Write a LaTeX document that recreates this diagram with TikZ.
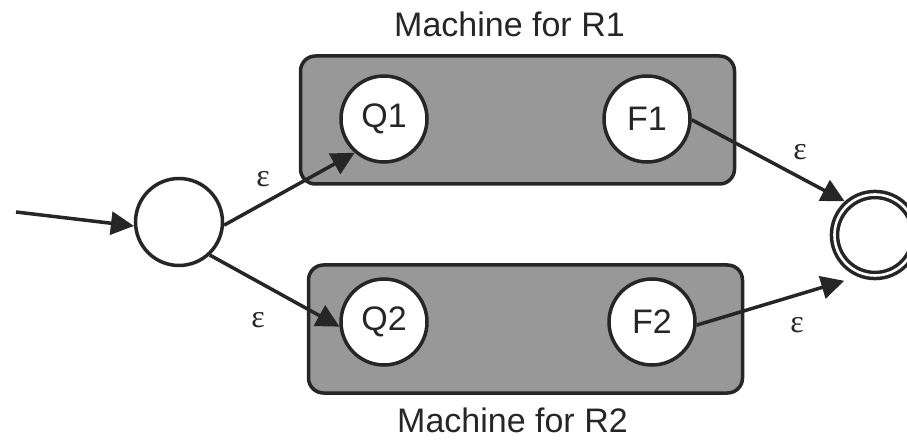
\documentclass[tikz,border=0pt]{standalone}
\usepackage{fontspec}
\setmainfont{Liberation Sans}
\newfontfamily\epsfont{Liberation Serif}
\usetikzlibrary{arrows.meta}
\definecolor{ink}{RGB}{38,38,38}
\definecolor{boxgray}{RGB}{152,152,152}
\begin{document}
\begin{tikzpicture}[x=1pt,y=-1pt,
  state/.style={circle,draw=ink,fill=white,line width=3.5pt,inner sep=0pt,
    minimum size=86pt,font=\fontsize{34}{36}\selectfont,text=ink},
  accept/.style={circle,draw=ink,fill=white,line width=3.5pt,double=white,
    double distance=2.6pt,inner sep=0pt,minimum size=81pt,outer sep=5pt},
  machine/.style={draw=ink,fill=boxgray,line width=3.5pt,rounded corners=15pt,
    minimum width=434pt,minimum height=128pt,inner sep=0pt},
  title/.style={font=\fontsize{34}{36}\selectfont,text=ink,anchor=base},
  eps/.style={font=\epsfont\fontsize{32}{34}\selectfont,text=ink,inner sep=0pt},
  arr/.style={draw=ink,line width=3.5pt,-{Triangle[length=23pt,width=23pt]}}]
\useasboundingbox (0,0) rectangle (907,446);

% the two sub-machines
\node[machine] (m1) at (517.5,120) {};
\node[machine] (m2) at (525.5,329) {};
\node[title] (t1) at (509.5,37) {Machine for R1};
\node[title] (t2) at (512.5,432) {Machine for R2};

% states
\node[state,minimum size=87pt] (s) at (179,222) {};
\node[state] (q1) at (384,119) {Q1};
\node[state] (f1) at (647,119) {F1};
\node[state] (q2) at (384,322) {Q2};
\node[state] (f2) at (652,322) {F2};
\node[accept] (fin) at (875,235) {};

% transitions
\coordinate (in) at (16,212);
\draw[arr] (in) -- (s.185);
\draw[arr] (s.-4) -- (q1.229);
\draw[arr] (s.-47) -- (q2.186);
\draw[arr] (f1.-1) -- (fin.132);
\draw[arr,shorten >=13.6pt] (f2.-4) -- (fin.247);

% epsilon labels
\node[eps] (e1) at (263,179) {ε};
\node[eps] (e2) at (258,320) {ε};
\node[eps] (e3) at (800,152) {ε};
\node[eps] (e4) at (797,325) {ε};
\end{tikzpicture}
\end{document}
